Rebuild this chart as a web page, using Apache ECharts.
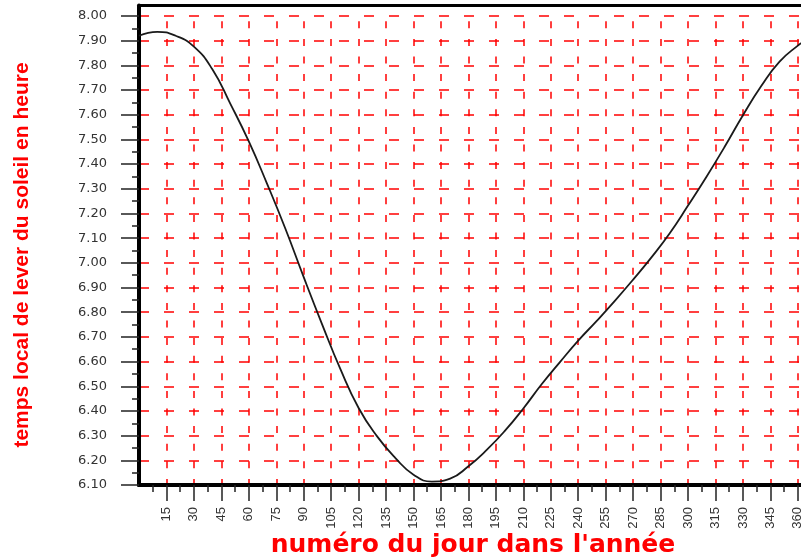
<!DOCTYPE html>
<html>
<head>
<meta charset="utf-8">
<script src="https://cdn.jsdelivr.net/npm/echarts@6/dist/echarts.min.js"></script>
<style>
  html, body { margin: 0; padding: 0; background: #ffffff; }
  #chart { width: 801px; height: 557px; }
</style>
</head>
<body>
<div id="chart"></div>
<script>
// Day of the year
const days = [0, 10, 20, 30, 40, 50, 60, 70, 80, 90, 100, 110, 120, 130, 140, 150,
              160, 170, 180, 190, 200, 210, 220, 230, 240, 250, 260, 270, 280, 290,
              300, 310, 320, 330, 340, 350, 360, 365];
// Local sunrise time (decimal hours)
const riseTimes = [7.920, 7.936, 7.920, 7.876, 7.785, 7.643, 7.492, 7.320, 7.138, 6.942,
                   6.752, 6.570, 6.412, 6.298, 6.210, 6.142, 6.114, 6.126, 6.176, 6.242,
                   6.320, 6.410, 6.508, 6.598, 6.685, 6.764, 6.846, 6.932, 7.022, 7.120,
                   7.232, 7.348, 7.470, 7.598, 7.716, 7.815, 7.880, 7.905];
// Labelled ticks on the day axis
const dayTicks = [15, 30, 45, 60, 75, 90, 105, 120, 135, 150, 165, 180, 195, 210, 225,
                  240, 255, 270, 285, 300, 315, 330, 345, 360];
// Hour axis range and step
const hourMin = 6.10;
const hourMax = 8.00;
const hourStep = 0.10;

const xTitle = "numéro du jour dans l'année";
const yTitle = 'temps local de lever du soleil en heure';

const points = days.map((d, i) => [d, riseTimes[i]]);

const tickStyle = { color: '#222', width: 1.5 };
const gridRed = '#ff0000';

const chart = echarts.init(document.getElementById('chart'), null, { renderer: 'canvas' });

chart.setOption({
  animation: false,
  backgroundColor: '#ffffff',
  grid: [
    // plotting area
    { left: 139, top: 16, width: 668, height: 469, outerBoundsMode: 'none', containLabel: false },
    // outer frame (reaches a little above the top value)
    { left: 139, top: 5.5, width: 668, height: 479.5, outerBoundsMode: 'none', containLabel: false }
  ],
  xAxis: [
    {
      gridIndex: 0,
      type: 'value',
      min: 0,
      max: 365,
      interval: 15,
      name: xTitle,
      nameLocation: 'middle',
      nameGap: 48,
      nameMoveOverlap: false,
      nameTextStyle: {
        color: '#ff0000',
        fontFamily: 'DejaVu Sans',
        fontWeight: 'bold',
        fontSize: 25
      },
      axisLine: { onZero: false, lineStyle: { color: '#000', width: 4 } },
      axisTick: { length: 16, customValues: dayTicks, lineStyle: tickStyle },
      minorTick: { show: true, splitNumber: 2, length: 7, lineStyle: tickStyle },
      axisLabel: {
        customValues: dayTicks,
        rotate: 90,
        margin: 22,
        fontFamily: 'Liberation Sans',
        fontSize: 13,
        color: '#333'
      },
      splitLine: {
        show: true,
        lineStyle: { color: gridRed, width: 1.5, type: [7, 10.6], dashOffset: 12.3 }
      }
    },
    {
      gridIndex: 1,
      type: 'value',
      position: 'top',
      min: 0,
      max: 1,
      axisLine: { onZero: false, lineStyle: { color: '#000', width: 3 } },
      axisTick: { show: false },
      axisLabel: { show: false },
      splitLine: { show: false }
    }
  ],
  yAxis: [
    {
      gridIndex: 0,
      type: 'value',
      min: hourMin,
      max: hourMax,
      interval: hourStep,
      name: yTitle,
      nameLocation: 'middle',
      nameGap: 106,
      nameMoveOverlap: false,
      nameTextStyle: {
        color: '#ff0000',
        fontFamily: 'Liberation Sans',
        fontWeight: 'bold',
        fontSize: 21,
        padding: [0, 9, 0, 0]
      },
      axisLine: { onZero: false, lineStyle: { color: '#000', width: 4 } },
      axisTick: { length: 18, lineStyle: tickStyle },
      minorTick: { show: true, splitNumber: 2, length: 7, lineStyle: tickStyle },
      axisLabel: {
        margin: 32,
        fontFamily: 'DejaVu Sans',
        fontSize: 13,
        color: '#333',
        formatter: v => v.toFixed(2)
      },
      splitLine: {
        show: true,
        lineStyle: { color: gridRed, width: 1.5, type: [10, 15], dashOffset: 0 }
      }
    },
    {
      gridIndex: 1,
      type: 'value',
      min: 0,
      max: 1,
      axisLine: { onZero: false, lineStyle: { color: '#000', width: 4 } },
      axisTick: { show: false },
      axisLabel: { show: false },
      splitLine: { show: false }
    }
  ],
  series: [
    {
      type: 'line',
      xAxisIndex: 0,
      yAxisIndex: 0,
      data: points,
      smooth: true,
      showSymbol: false,
      lineStyle: { color: '#1a1a1a', width: 1.8 }
    }
  ]
});
</script>
</body>
</html>
